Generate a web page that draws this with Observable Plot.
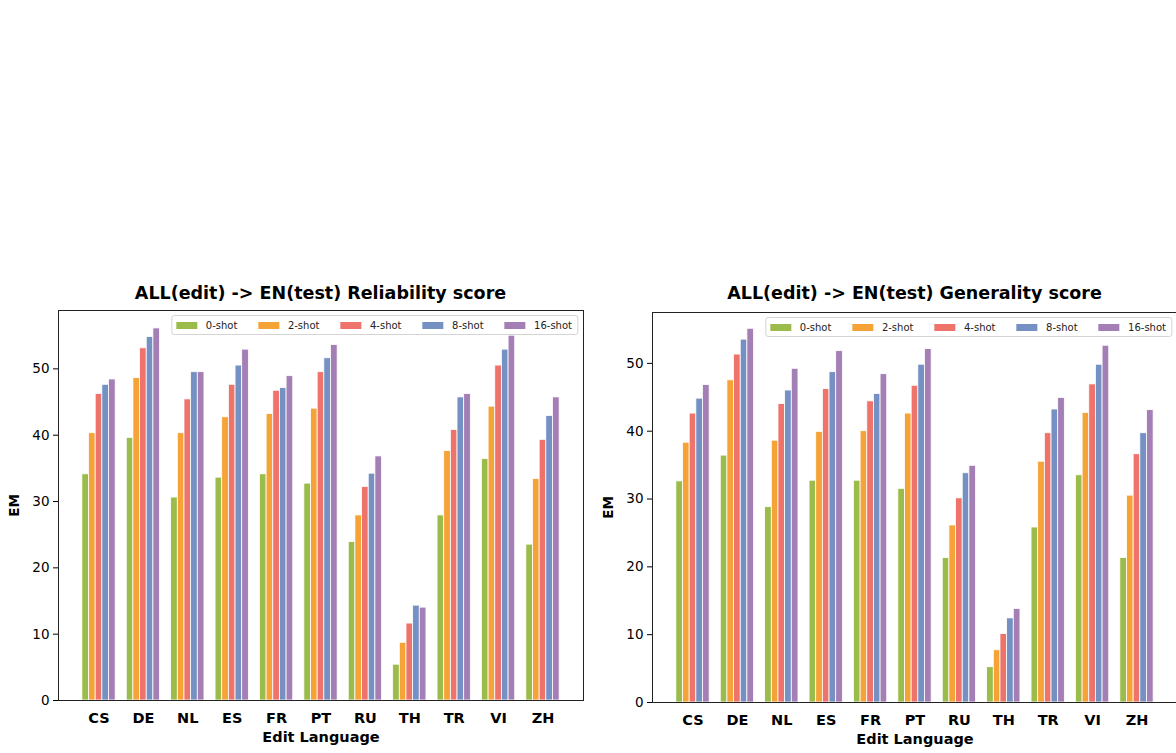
<!DOCTYPE html>
<html><head><meta charset="utf-8">
<script src="https://cdn.jsdelivr.net/npm/d3@7"></script>
<script src="https://cdn.jsdelivr.net/npm/@observablehq/plot@0.6"></script>
<style>
html,body{margin:0;padding:0;background:#fff;overflow:hidden}
#root{position:relative;width:1176px;height:753px;overflow:hidden;font-family:"DejaVu Sans",sans-serif;color:#000}
.layer{position:absolute;top:0}
.title{position:absolute;top:285px;font-weight:bold;font-size:17.5px;line-height:17.5px;white-space:nowrap;transform:translateX(-50%)}
.legend{position:absolute;height:20px;box-sizing:border-box;border:1px solid #d4d4d4;border-radius:3px;background:rgba(255,255,255,0.85);display:flex;align-items:center;padding:0 5px 0 4px;gap:21px;font-size:10px;color:#222}
.item{display:flex;align-items:center;gap:8.5px;white-space:nowrap}
.sw{width:21px;height:7px}
svg g[aria-label="y-axis label"] text{font-weight:bold}
</style>
</head><body><div id="root"></div>
<script>
const languages = ["CS","DE","NL","ES","FR","PT","RU","TH","TR","VI","ZH"];
const shots = ["0-shot","2-shot","4-shot","8-shot","16-shot"];
const colors = ["#9bbb4a","#f5a337","#ee736b","#7590c3","#a47fb5"];
const yTicks = [0,10,20,30,40,50];

const titles = ["ALL(edit) -> EN(test) Reliability score", "ALL(edit) -> EN(test) Generality score"];
const xLabel = "Edit Language";
const yLabel = "EM";

// Reliability (left panel)
const rel0  = [34.1, 39.6, 30.6, 33.6, 34.1, 32.7, 23.9, 5.4, 27.9, 36.4, 23.5];
const rel2  = [40.3, 48.6, 40.3, 42.7, 43.2, 44.0, 27.9, 8.7, 37.6, 44.3, 33.4];
const rel4  = [46.2, 53.1, 45.4, 47.6, 46.7, 49.5, 32.2, 11.6, 40.8, 50.5, 39.3];
const rel8  = [47.6, 54.8, 49.5, 50.5, 47.1, 51.6, 34.2, 14.3, 45.7, 52.9, 42.9];
const rel16 = [48.4, 56.1, 49.5, 52.9, 48.9, 53.6, 36.8, 14.0, 46.2, 55.0, 45.7];

// Generality (right panel)
const gen0  = [32.6, 36.4, 28.8, 32.7, 32.7, 31.5, 21.3, 5.2, 25.8, 33.5, 21.3];
const gen2  = [38.3, 47.5, 38.6, 39.9, 40.0, 42.6, 26.1, 7.7, 35.5, 42.7, 30.5];
const gen4  = [42.6, 51.3, 44.0, 46.2, 44.4, 46.7, 30.1, 10.1, 39.7, 46.9, 36.6];
const gen8  = [44.8, 53.5, 46.0, 48.7, 45.5, 49.8, 33.8, 12.4, 43.2, 49.8, 39.7];
const gen16 = [46.8, 55.1, 49.2, 51.8, 48.4, 52.1, 34.9, 13.8, 44.9, 52.6, 43.1];

const yMaxRel = 58.8;
const yMaxGen = 57.5;

const root = document.getElementById("root");

function tidy(series) {
  const rows = [];
  languages.forEach((lang, i) => shots.forEach((shot, j) => rows.push({lang, shot, value: series[j][i]})));
  return rows;
}

function panel(series, yMax, cfg) {
  const common = {
    width: cfg.width, height: 753,
    marginLeft: cfg.ml, marginRight: cfg.mr, marginTop: cfg.mt, marginBottom: cfg.mb,
    style: {fontFamily: "DejaVu Sans", color: "#000", background: "transparent", overflow: "visible"},
    y: {domain: [0, yMax], ticks: yTicks}
  };
  const bars = Plot.plot({
    ...common,
    fx: {domain: languages, paddingInner: 0.25, paddingOuter: 0.5375, round: false, label: null},
    x: {domain: shots, padding: 0, round: false, axis: null},
    y: {domain: [0, yMax], axis: null},
    color: {domain: shots, range: colors},
    marks: [
      Plot.barY(tidy(series), {fx: "lang", x: "shot", y: "value", fill: "shot", stroke: "white", strokeWidth: 0.8}),
      Plot.axisFx({anchor: "bottom", tickSize: 5, tickPadding: 7, fontSize: 14.5, fontWeight: "bold",
        label: xLabel, labelAnchor: "center", labelOffset: 41, stroke: null})
    ]
  });
  const axes = Plot.plot({
    ...common,
    marks: [
      Plot.frame({stroke: "#222", strokeWidth: 1}),
      Plot.axisY({ticks: yTicks, tickSize: 5, tickPadding: 4, fontSize: 13.5,
        label: yLabel, labelAnchor: "center", labelOffset: 49, labelArrow: false})
    ]
  });
  for (const el of [bars, axes]) {
    el.classList.add("layer");
    el.style.left = cfg.left + "px";
    root.appendChild(el);
  }
  const t = document.createElement("div");
  t.className = "title";
  t.textContent = cfg.title;
  t.style.left = (cfg.left + cfg.ml + (cfg.width - cfg.ml - cfg.mr) / 2) + "px";
  root.appendChild(t);

  const lg = document.createElement("div");
  lg.className = "legend";
  lg.style.top = (cfg.mt + 5) + "px";
  lg.style.left = (cfg.left + cfg.width - cfg.mr - 5) + "px";
  lg.style.transform = "translateX(-100%)";
  shots.forEach((s, j) => {
    const it = document.createElement("div");
    it.className = "item";
    const sw = document.createElement("div");
    sw.className = "sw";
    sw.style.background = colors[j];
    const tx = document.createElement("span");
    tx.textContent = s;
    it.appendChild(sw); it.appendChild(tx);
    lg.appendChild(it);
  });
  root.appendChild(lg);
}

panel([rel0, rel2, rel4, rel8, rel16], yMaxRel,
  {left: 0, width: 600, ml: 58, mr: 17, mt: 310, mb: 53, title: titles[0]});
panel([gen0, gen2, gen4, gen8, gen16], yMaxGen,
  {left: 600, width: 580, ml: 52, mr: 3, mt: 312, mb: 51, title: titles[1]});
</script>
</body></html>
